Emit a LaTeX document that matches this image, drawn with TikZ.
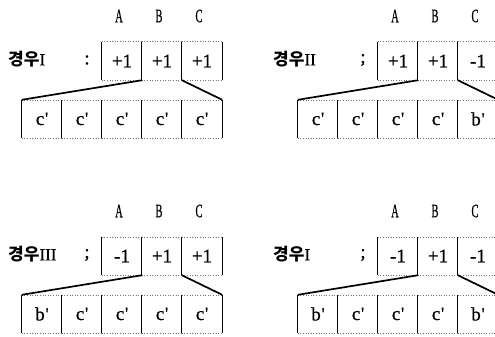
\documentclass[tikz,border=0pt]{standalone}
\usepackage{fontspec}
\usepackage{graphicx}
\setmainfont{Liberation Serif}[FakeBold=0.8]
\newfontfamily\krfont{Noto Sans CJK KR}
\newcommand\pr{\kern0.8pt\raisebox{1pt}{\scalebox{0.9}{\textquotesingle}}}
\tikzset{
  cell/.style={minimum width=40pt,minimum height=38pt,inner sep=0pt,font=\fontsize{19}{19}\selectfont},
  hdr/.style={inner sep=0pt,font=\fontsize{19}{19}\selectfont},
  lab/.style={inner sep=0pt,anchor=west,font=\fontsize{17}{17}\selectfont},
  dotline/.style={draw=black!55,dotted,line width=0.6pt},
  vline/.style={draw=black,line width=1.2pt},
  conn/.style={draw=black,line width=1.7pt}
}
\newcommand\casepanel[7]{% #1 prefix, #2 shift, #3 label, #4 label x, #5 separator, #6 row1, #7 row2
\begin{scope}[shift={#2}]
  \node[hdr] (#1hA) at (119,-16) {\scalebox{0.55}[1]{A}};
  \node[hdr] (#1hB) at (159,-16) {\scalebox{0.55}[1]{B}};
  \node[hdr] (#1hC) at (199,-16) {\scalebox{0.55}[1]{C}};
  \node[lab] (#1lab) at (#4,-59) {{\krfont\bfseries 경우}#3};
  \node[hdr] (#1sep) at (87,-60) {#5};
  \foreach \t [count=\i] in {#6} {
    \node[cell] (#1t\i) at ({82+40*\i},-61) {\t};
    \draw[dotline] (#1t\i.north west) -- (#1t\i.north east);
    \draw[dotline] (#1t\i.south west) -- (#1t\i.south east);
    \draw[vline] (#1t\i.north west) -- (#1t\i.south west);
  }
  \draw[vline] (#1t3.north east) -- (#1t3.south east);
  \foreach \t [count=\i] in {#7} {
    \node[cell] (#1b\i) at ({2+40*\i},-119) {\t};
    \draw[dotline] (#1b\i.north west) -- (#1b\i.north east);
    \draw[dotline] (#1b\i.south west) -- (#1b\i.south east);
    \draw[vline] (#1b\i.north west) -- (#1b\i.south west);
  }
  \draw[vline] (#1b5.north east) -- (#1b5.south east);
  \draw[conn] (#1t1.south east) -- (#1b1.north west);
  \draw[conn] (#1t3.south west) -- (#1b5.north east);
\end{scope}}
\begin{document}
\begin{tikzpicture}[x=1pt,y=1pt]
\useasboundingbox (0,0) rectangle (495,-337);
\clip (0,0) rectangle (495,-337);
\casepanel{p}{(0,0)}{I}{8}{:}{+1,+1,+1}{c\pr,c\pr,c\pr,c\pr,c\pr}
\casepanel{q}{(276,0)}{II}{-3}{;}{+1,+1,-1}{c\pr,c\pr,c\pr,c\pr,b\pr}
\casepanel{r}{(0,-195)}{III}{8}{;}{-1,+1,+1}{b\pr,c\pr,c\pr,c\pr,c\pr}
\casepanel{s}{(276,-195)}{I}{-3}{;}{-1,+1,-1}{b\pr,c\pr,c\pr,c\pr,b\pr}
\end{tikzpicture}
\end{document}
